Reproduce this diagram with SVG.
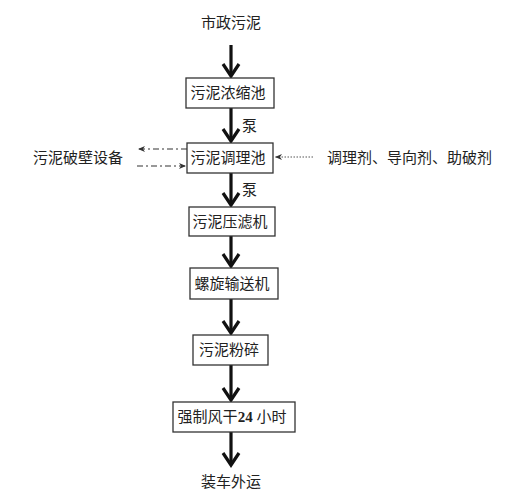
<svg xmlns="http://www.w3.org/2000/svg" width="517" height="494" viewBox="0 0 517 494">
<style>
.t{font-family:"Liberation Serif","Noto Sans CJK SC",serif;font-size:15px;fill:#222;}
.b{fill:#fff;stroke:#333;stroke-width:1.3;}
.m{stroke:#111;stroke-width:3.2;fill:none;}
.h{stroke:#111;stroke-width:3.2;fill:none;stroke-linejoin:miter;}
.dd{stroke:#333;stroke-width:1.2;stroke-dasharray:6,3,2,3;fill:none;}
.dt{stroke:#555;stroke-width:1;stroke-dasharray:1.5,1.5;fill:none;}
</style>
<defs>
<marker id="sa" markerWidth="8" markerHeight="8" refX="7" refY="4" orient="auto" markerUnits="userSpaceOnUse">
<path d="M0,1 L7,4 L0,7 L2,4 Z" fill="#333"/>
</marker>
</defs>
<rect width="517" height="494" fill="#fff"/>
<g id="connectors">
<line class="m" x1="231" y1="45" x2="231" y2="76"/><path class="h" d="M223,64 L231,76 L239,64"/>
<line class="m" x1="231" y1="108" x2="231" y2="141"/><path class="h" d="M223,129 L231,141 L239,129"/>
<line class="m" x1="231" y1="173" x2="231" y2="205"/><path class="h" d="M223,193 L231,205 L239,193"/>
<line class="m" x1="231" y1="236" x2="231" y2="266"/><path class="h" d="M223,254 L231,266 L239,254"/>
<line class="m" x1="231" y1="299" x2="231" y2="333"/><path class="h" d="M223,321 L231,333 L239,321"/>
<line class="m" x1="231" y1="365" x2="231" y2="400"/><path class="h" d="M223,388 L231,400 L239,388"/>
<line class="m" x1="231" y1="432" x2="231" y2="465"/><path class="h" d="M223,453 L231,465 L239,453"/>
<line class="dd" x1="187" y1="149" x2="138" y2="149" marker-end="url(#sa)"/>
<line class="dd" x1="137" y1="166" x2="186" y2="166" marker-end="url(#sa)"/>
<line class="dt" x1="313" y1="157" x2="275" y2="157" marker-end="url(#sa)"/>
<text class="t" x="242" y="131">泵</text>
<text class="t" x="242" y="195">泵</text>
</g>
<g id="n0"><text class="t" x="231" y="28" text-anchor="middle">市政污泥</text></g>
<g id="n1"><rect class="b" x="186" y="78" width="88" height="30"/><text class="t" x="228" y="98" text-anchor="middle">污泥浓缩池</text></g>
<g id="n2"><rect class="b" x="187" y="143" width="86" height="30"/><text class="t" x="228" y="163" text-anchor="middle">污泥调理池</text></g>
<g id="n3"><rect class="b" x="189" y="207" width="86" height="29"/><text class="t" x="230" y="227" text-anchor="middle">污泥压滤机</text></g>
<g id="n4"><rect class="b" x="190" y="268" width="88" height="31"/><text class="t" x="232" y="289" text-anchor="middle">螺旋输送机</text></g>
<g id="n5"><rect class="b" x="193" y="335" width="75" height="30"/><text class="t" x="229" y="355" text-anchor="middle">污泥粉碎</text></g>
<g id="n6"><rect class="b" x="173" y="402" width="122" height="30"/><text class="t" x="232" y="422" text-anchor="middle">强制风干<tspan font-weight="bold">24</tspan> 小时</text></g>
<g id="n7"><text class="t" x="231" y="487" text-anchor="middle">装车外运</text></g>
<g id="n8"><text class="t" x="33" y="163">污泥破壁设备</text></g>
<g id="n9"><text class="t" x="327" y="163">调理剂、导向剂、助破剂</text></g>
</svg>
